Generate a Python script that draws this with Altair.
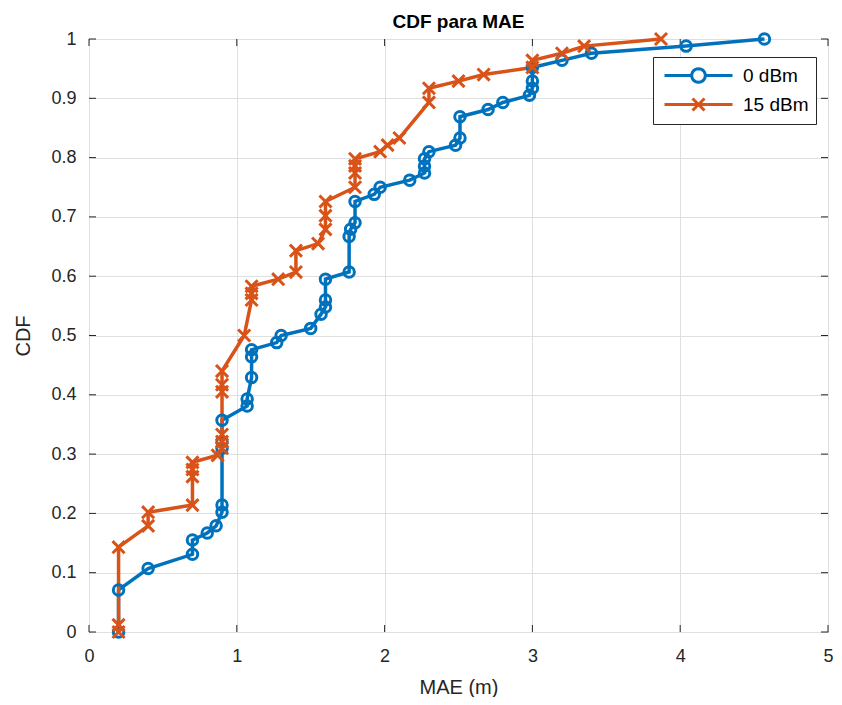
import math
import altair as alt
import pandas as pd

# ---- data ----
series_names = ["0 dBm", "15 dBm"]
series_colors = ["#0072BD", "#D95319"]

x_0dbm = [0.2, 0.2, 0.4, 0.7, 0.7, 0.8, 0.86, 0.9, 0.9, 0.9, 0.9, 0.9,
          1.07, 1.07, 1.1, 1.1, 1.1, 1.27, 1.3, 1.5, 1.57, 1.6, 1.6, 1.6,
          1.76, 1.76, 1.77, 1.8, 1.8, 1.93, 1.97, 2.17, 2.27, 2.27, 2.27,
          2.3, 2.48, 2.51, 2.51, 2.7, 2.8, 2.98, 3.0, 3.0, 3.0, 3.2, 3.4,
          4.04, 4.57]
cdf_0dbm = [0.0, 0.071, 0.107, 0.131, 0.155, 0.167, 0.179, 0.202, 0.214,
            0.310, 0.321, 0.357, 0.381, 0.393, 0.429, 0.464, 0.476, 0.488,
            0.500, 0.512, 0.536, 0.548, 0.560, 0.595, 0.607, 0.667, 0.679,
            0.690, 0.726, 0.738, 0.750, 0.762, 0.774, 0.786, 0.798, 0.810,
            0.821, 0.833, 0.869, 0.881, 0.893, 0.905, 0.917, 0.929, 0.952,
            0.964, 0.976, 0.988, 1.0]

x_15dbm = [0.2, 0.2, 0.2, 0.4, 0.4, 0.7, 0.7, 0.7, 0.7, 0.87, 0.9, 0.9,
           0.9, 0.9, 0.9, 0.9, 1.05, 1.1, 1.1, 1.1, 1.28, 1.4, 1.4, 1.55,
           1.6, 1.6, 1.6, 1.8, 1.8, 1.8, 1.8, 1.97, 2.02, 2.1, 2.3, 2.3,
           2.5, 2.67, 3.0, 3.0, 3.2, 3.35, 3.87]
cdf_15dbm = [0.0, 0.012, 0.143, 0.179, 0.202, 0.214, 0.262, 0.274, 0.286,
             0.298, 0.310, 0.321, 0.333, 0.405, 0.417, 0.440, 0.500, 0.560,
             0.571, 0.583, 0.595, 0.607, 0.643, 0.655, 0.679, 0.702, 0.726,
             0.750, 0.774, 0.786, 0.798, 0.810, 0.821, 0.833, 0.893, 0.917,
             0.929, 0.940, 0.952, 0.964, 0.976, 0.988, 1.0]

x_ticks = [0, 1, 2, 3, 4, 5]
y_ticks = [0, 0.1, 0.2, 0.3, 0.4, 0.5, 0.6, 0.7, 0.8, 0.9, 1]

# ---- build table ----
rows = []
for name, xs, ys in [(series_names[0], x_0dbm, cdf_0dbm),
                     (series_names[1], x_15dbm, cdf_15dbm)]:
    for i, (xv, yv) in enumerate(zip(xs, ys)):
        rows.append({"series": name, "x": xv, "y": yv, "idx": i})
df = pd.DataFrame(rows)

FONT = "Liberation Sans, Arial, sans-serif"
W, H = 739, 593
TK = 7
AX = "#262626"

xscale = alt.Scale(domain=[0, 5], nice=False, zero=False)
yscale = alt.Scale(domain=[0, 1], nice=False, zero=False)

# legend glyphs: line segment with a marker in the middle (path units: 1 = sqrt(size)/2 px)
R = 0.68
circ = " ".join(
    ("M" if k == 0 else "L") + f" {R*math.cos(2*math.pi*k/24):.3f} {R*math.sin(2*math.pi*k/24):.3f}"
    for k in range(25))
p_circle_leg = f"M -3.4 0 L -{R} 0 M {R} 0 L 3.4 0 " + circ
p_x_leg = "M -3.4 0 L 3.4 0 M -0.6 -0.6 L 0.6 0.6 M -0.6 0.6 L 0.6 -0.6"
p_x = "M -1.15 -1.15 L 1.15 1.15 M -1.15 1.15 L 1.15 -1.15"


def x_axis():
    return alt.Axis(values=x_ticks, title="MAE (m)", grid=True, gridColor="#dfdfdf",
                    gridWidth=1, ticks=False, domain=False, labelPadding=15,
                    titlePadding=12, format="~g", labelFlush=False)


def y_axis():
    return alt.Axis(values=y_ticks, title="CDF", grid=True, gridColor="#dfdfdf",
                    gridWidth=1, ticks=False, domain=False, labelPadding=13,
                    titlePadding=17, format="~g", labelFlush=False)


def cscale():
    return alt.Scale(domain=series_names, range=series_colors)


base = alt.Chart(df)
lines = base.mark_line(strokeWidth=3.5).encode(
    x=alt.X("x:Q", scale=xscale, axis=x_axis()),
    y=alt.Y("y:Q", scale=yscale, axis=y_axis()),
    color=alt.Color("series:N", scale=cscale(), legend=None),
    order=alt.Order("idx:Q"),
)
points = base.mark_point(filled=False, size=110, strokeWidth=3, opacity=1).encode(
    x=alt.X("x:Q", scale=xscale, axis=x_axis()),
    y=alt.Y("y:Q", scale=yscale, axis=y_axis()),
    color=alt.Color("series:N", scale=cscale(), legend=None),
    shape=alt.Shape("series:N", scale=alt.Scale(domain=series_names,
                                                range=["circle", p_x]), legend=None),
)

legend = alt.Legend(
    title=None, orient="none", legendX=564, legendY=18, direction="vertical",
    symbolSize=400, symbolStrokeWidth=3, symbolOffset=27, labelOffset=33,
    padding=7, rowPadding=3, strokeColor=AX, fillColor="white",
    labelFontSize=19, labelFont=FONT, labelColor="black", cornerRadius=0,
    symbolOpacity=1, symbolFillColor="transparent",
)
legend_layer = base.transform_filter("false").mark_point(
    filled=False, size=400, strokeWidth=3, opacity=1).encode(
    x=alt.X("x:Q", scale=xscale, axis=x_axis()),
    y=alt.Y("y:Q", scale=yscale, axis=y_axis()),
    color=alt.Color("series:N", scale=cscale(), legend=legend),
    shape=alt.Shape("series:N", scale=alt.Scale(domain=series_names,
                                                range=[p_circle_leg, p_x_leg]),
                    legend=legend),
)

xt = pd.DataFrame({"x": x_ticks})
yt = pd.DataFrame({"y": y_ticks})
tick_b = alt.Chart(xt).mark_rule(color=AX, strokeWidth=1).encode(
    x=alt.X("x:Q", scale=xscale, axis=x_axis()), y=alt.value(H), y2=alt.value(H - TK))
tick_t = alt.Chart(xt).mark_rule(color=AX, strokeWidth=1).encode(
    x=alt.X("x:Q", scale=xscale, axis=x_axis()), y=alt.value(0), y2=alt.value(TK))
tick_l = alt.Chart(yt).mark_rule(color=AX, strokeWidth=1).encode(
    y=alt.Y("y:Q", scale=yscale, axis=y_axis()), x=alt.value(0), x2=alt.value(TK))
tick_r = alt.Chart(yt).mark_rule(color=AX, strokeWidth=1).encode(
    y=alt.Y("y:Q", scale=yscale, axis=y_axis()), x=alt.value(W), x2=alt.value(W - TK))

chart = alt.layer(lines, tick_b, tick_t, tick_l, tick_r, points, legend_layer).resolve_scale(
    color="independent", shape="independent"
).properties(
    width=W, height=H,
    title=alt.TitleParams("CDF para MAE", fontSize=19, fontWeight="bold",
                          font=FONT, color="black", offset=4, anchor="middle",
                          dy=9),
    autosize=alt.AutoSizeParams(type="none"),
    padding={"left": 81, "top": 31, "right": 6, "bottom": 65},
    background="white",
).configure_view(stroke=AX, strokeWidth=1).configure_axis(
    labelFont=FONT, labelFontSize=18, labelColor=AX,
    titleFont=FONT, titleFontSize=20, titleFontWeight="normal", titleColor=AX,
)

chart.save("out.html", embed_options={"renderer": "svg", "actions": False})
